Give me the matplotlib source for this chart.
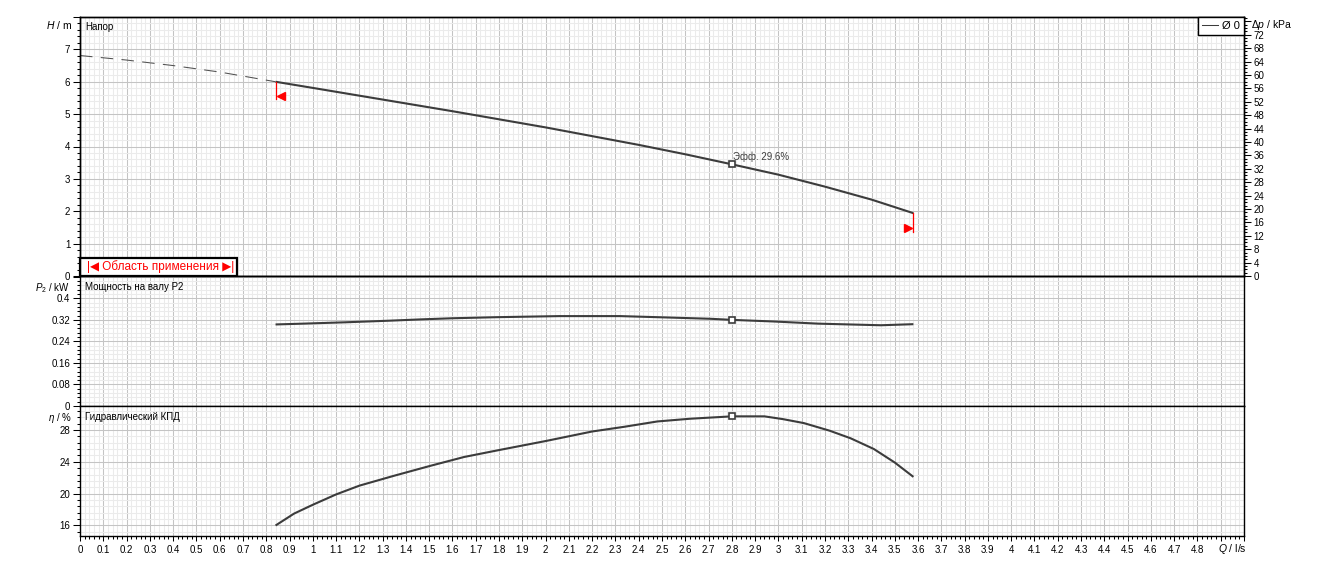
import numpy as np
import matplotlib
matplotlib.use('Agg')
import matplotlib.pyplot as plt
from matplotlib.ticker import MultipleLocator, FixedLocator, FuncFormatter
from matplotlib.patches import Rectangle
from matplotlib.lines import Line2D

plt.rcParams['font.family'] = ['Liberation Sans', 'DejaVu Sans']
plt.rcParams['font.size'] = 7
plt.rcParams['mathtext.fontset'] = 'custom'
plt.rcParams['mathtext.rm'] = 'Liberation Sans'
plt.rcParams['mathtext.it'] = 'Liberation Sans:italic'

# head curve (working range) + dashed extension down to zero flow
q_head = [0.84, 1.0, 1.2, 1.4, 1.6, 1.8, 2.0, 2.2, 2.4, 2.6, 2.8, 3.0, 3.2, 3.4, 3.58]
head = [6.00, 5.81, 5.57, 5.33, 5.09, 4.84, 4.59, 4.32, 4.05, 3.76, 3.45, 3.13, 2.76, 2.36, 1.94]
q_ext = [0, 0.2, 0.4, 0.6, 0.84]
head_ext = [6.81, 6.67, 6.50, 6.30, 6.00]

# shaft power P2, kW
q_pow = [0.84, 0.96, 1.14, 1.33, 1.47, 1.60, 1.79, 2.06, 2.32, 2.52, 2.71, 2.80, 2.98, 3.17, 3.44, 3.58]
power = [0.303, 0.306, 0.311, 0.317, 0.322, 0.326, 0.330, 0.334, 0.334, 0.329, 0.324, 0.320,
         0.314, 0.306, 0.300, 0.304]

# hydraulic efficiency, %
q_eff = [0.84, 0.92, 1.0, 1.1, 1.2, 1.35, 1.5, 1.65, 1.8, 2.0, 2.2, 2.34, 2.48, 2.62, 2.8,
         2.94, 3.02, 3.11, 3.22, 3.31, 3.41, 3.5, 3.58]
eff = [16.0, 17.5, 18.6, 19.9, 21.0, 22.25, 23.45, 24.6, 25.47, 26.6, 27.8, 28.4, 29.06, 29.4,
       29.7, 29.7, 29.35, 28.85, 27.9, 26.95, 25.6, 23.9, 22.1]

q_duty = 2.8
eff_duty = 29.6
rho_g = 9.66  # kPa per metre of head

LINE = '#3c3c3c'
MAJ = '#c4c4c4'
MIN = '#ebebeb'

W, HP = 1323, 571
fig = plt.figure(figsize=(W / 100, HP / 100), dpi=100)


def box(top, bottom):
    return [80 / W, 1 - bottom / HP, (1244 - 80) / W, (bottom - top) / HP]


ax_h = fig.add_axes(box(17, 276))
ax_p = fig.add_axes(box(276, 406))
ax_e = fig.add_axes(box(406, 536))

x_ticks = np.round(np.arange(0, 5.001, 0.1), 1)


def xfmt(v, pos):
    return '' if v > 4.85 else f'{round(v, 1):g}'


for ax in (ax_h, ax_p, ax_e):
    ax.set_xlim(0, 5)
    ax.xaxis.set_major_locator(FixedLocator(x_ticks))
    ax.xaxis.set_minor_locator(MultipleLocator(0.02))
    ax.set_axisbelow(True)
    ax.grid(which='major', color=MAJ, lw=0.75)
    ax.grid(which='minor', color=MIN, lw=0.75)
    for s in ax.spines.values():
        s.set_linewidth(1)
        s.set_color('black')
    ax.tick_params(axis='y', which='major', direction='out', length=5, width=0.75, pad=2, labelsize=7)
    ax.tick_params(axis='y', which='minor', direction='out', length=2.5, width=0.75)
    ax.tick_params(axis='x', which='both', top=False)

for ax in (ax_h, ax_p):
    ax.tick_params(axis='x', which='both', bottom=False, labelbottom=False)

ax_e.xaxis.set_major_formatter(FuncFormatter(xfmt))
ax_e.tick_params(axis='x', which='major', direction='out', length=3.5, width=0.75, pad=3, labelsize=7)
ax_e.tick_params(axis='x', which='minor', direction='out', length=2, width=0.75)

# y scales
ax_h.set_ylim(0, 8)
ax_h.yaxis.set_major_locator(MultipleLocator(1))
ax_h.yaxis.set_minor_locator(MultipleLocator(0.2))
ax_h.yaxis.set_major_formatter(FuncFormatter(lambda v, p: '' if v > 7.5 else f'{v:.0f}'))

ax_p.set_ylim(0, 0.483)
ax_p.yaxis.set_major_locator(MultipleLocator(0.08))
ax_p.yaxis.set_minor_locator(MultipleLocator(0.016))
ax_p.yaxis.set_major_formatter(FuncFormatter(lambda v, p: '' if v > 0.41 else f'{round(v, 2):g}'))

ax_e.set_ylim(14.68, 31.0)
ax_e.yaxis.set_major_locator(MultipleLocator(4))
ax_e.yaxis.set_minor_locator(MultipleLocator(0.8))
ax_e.yaxis.set_major_formatter(FuncFormatter(lambda v, p: f'{v:.0f}'))

ax_k = ax_h.twinx()
ax_k.set_position(box(17, 276))
ax_k.set_ylim(0, 8 * rho_g)
ax_k.yaxis.set_major_locator(MultipleLocator(4))
ax_k.yaxis.set_minor_locator(MultipleLocator(1))
ax_k.yaxis.set_major_formatter(FuncFormatter(lambda v, p: '' if v > 74 else f'{v:.0f}'))
ax_k.tick_params(axis='y', which='major', direction='out', length=5, width=0.75, pad=2, labelsize=7)
ax_k.tick_params(axis='y', which='minor', direction='out', length=2.5, width=0.75)
for s in ax_k.spines.values():
    s.set_linewidth(1)

# curves
ax_h.plot(q_ext, head_ext, color='#505050', lw=0.75, ls=(0, (12, 8)))
ax_h.plot(q_head, head, color=LINE, lw=1.5, solid_capstyle='butt')
ax_p.plot(q_pow, power, color=LINE, lw=1.5, solid_capstyle='butt')
ax_e.plot(q_eff, eff, color=LINE, lw=1.5, solid_capstyle='butt')

for ax, qq, vv in ((ax_h, q_head, head), (ax_p, q_pow, power), (ax_e, q_eff, eff)):
    ax.plot([q_duty], [np.interp(q_duty, qq, vv)], marker='s', ms=5, mfc='white',
            mec=LINE, mew=1.2, zorder=5)

ax_h.annotate(f'Эфф. {eff_duty}%', (q_duty, np.interp(q_duty, q_head, head)),
              xytext=(0.5, 5.5), textcoords='offset points', ha='left', va='center',
              fontsize=7, color=LINE)

# working range limits
q0, h0 = q_head[0], head[0]
q1, h1 = q_head[-1], head[-1]
ax_h.plot([q0, q0], [h0, h0 - 0.54], color='red', lw=0.9)
ax_h.plot(q0 + 0.025, h0 - 0.43, marker='<', color='red', ms=5.5)
ax_h.plot([q1, q1], [h1, h1 - 0.57], color='red', lw=0.9)
ax_h.plot(q1 - 0.022, h1 - 0.47, marker='>', color='red', ms=5.5)

ax_h.add_patch(Rectangle((0, 0), 157 / 1164, 17.7 / 259, transform=ax_h.transAxes,
                         fc='white', ec='black', lw=1.6, zorder=6, clip_on=False))
ax_h.text(0.0695, 9 / 259, '|◀ Область применения ▶|',
          transform=ax_h.transAxes, ha='center', va='center', color='red', fontsize=8.5,
          zorder=7)

# panel titles
ax_h.text(0.0045, 0.96, 'Напор', transform=ax_h.transAxes, ha='left', va='center', fontsize=7)
ax_p.text(0.0045, 0.918, 'Мощность на валу P2', transform=ax_p.transAxes, ha='left',
          va='center', fontsize=7)
ax_e.text(0.0045, 0.918, 'Гидравлический КПД', transform=ax_e.transAxes, ha='left',
          va='center', fontsize=7)

# axis names
ax_h.text(-0.007, 7.74, '$H$ / m', transform=ax_h.get_yaxis_transform(), ha='right',
          va='center', fontsize=7.5)
ax_p.text(-0.009, 0.437, '$P_2$ / kW', transform=ax_p.get_yaxis_transform(), ha='right',
          va='center', fontsize=7)
ax_e.text(-0.007, 29.55, '$\\eta$ / %', transform=ax_e.get_yaxis_transform(), ha='right',
          va='center', fontsize=7)
ax_k.text(1.006, 75.0, 'Δ$p$ / kPa', transform=ax_k.get_yaxis_transform(), ha='left',
          va='center', fontsize=7.5)
ax_e.text(4.95, -0.1, '$Q$ / l/s', transform=ax_e.get_xaxis_transform(), ha='center',
          va='center', fontsize=7.5)

leg = ax_k.legend([Line2D([], [], color=LINE, lw=0.75)], ['Ø 0'], loc='upper right',
                  frameon=True, fancybox=False, edgecolor='black', framealpha=1,
                  borderaxespad=0, handlelength=1.4, handletextpad=0.4, borderpad=0.35,
                  fontsize=8)
leg.get_frame().set_linewidth(1)

fig.savefig('out.png', dpi=100)
